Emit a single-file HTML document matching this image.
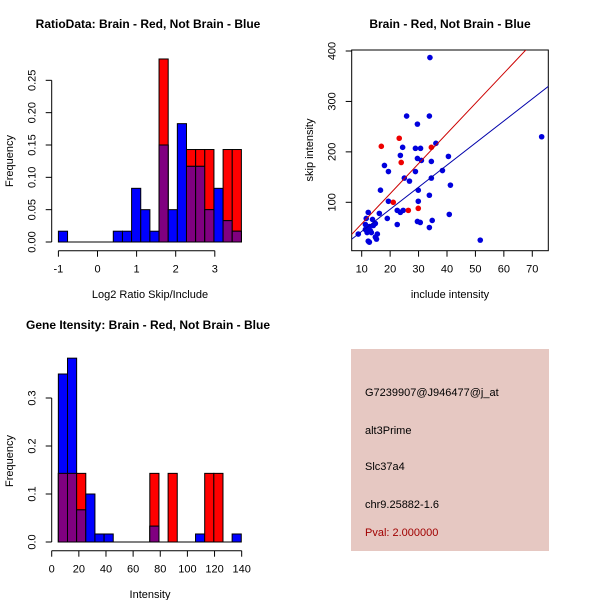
<!DOCTYPE html>
<html><head><meta charset="utf-8"><style>
html,body{margin:0;padding:0;background:#fff;}
svg{display:block;font-family:"Liberation Sans",sans-serif;}
</style></head><body>
<svg id="s" width="600" height="600" xmlns="http://www.w3.org/2000/svg">
<rect x="0" y="0" width="600" height="600" fill="#fff"/>
<text x="148" y="28" font-size="12" font-weight="bold" text-anchor="middle">RatioData: Brain - Red, Not Brain - Blue</text>
<text x="450" y="28" font-size="12" font-weight="bold" text-anchor="middle">Brain - Red, Not Brain - Blue</text>
<text x="148" y="329" font-size="12" font-weight="bold" text-anchor="middle">Gene Itensity: Brain - Red, Not Brain - Blue</text>
<g id="p1"></g>
<g id="p2"></g>
<g id="p3"></g>
<g>
<rect x="351" y="349" width="198" height="202" fill="#e6c8c2"/>
<text x="365" y="396" font-size="11">G7239907@J946477@j_at</text>
<text x="365" y="434" font-size="11">alt3Prime</text>
<text x="365" y="470" font-size="11">Slc37a4</text>
<text x="365" y="508" font-size="11">chr9.25882-1.6</text>
<text x="365" y="536" font-size="11" fill="#a00000">Pval: 2.000000</text>
</g>
</svg>
<script>
// Ratio histogram data (20 bins from -1 to 3.68)
const ratioBlue=[0.0167,0,0,0,0,0,0.0167,0.0167,0.083,0.05,0.0167,0.15,0.05,0.183,0.117,0.117,0.05,0.083,0.033,0.0167];
const ratioRed=[0,0,0,0,0,0,0,0,0,0,0,0.283,0,0,0.143,0.143,0.143,0,0.143,0.143];
const ratioXTicks=[-1,0,1,2,3];
const ratioYTicks=[0,0.05,0.10,0.15,0.20,0.25];
const ratioYLabels=["0.00","0.05","0.10","0.15","0.20","0.25"];
// Intensity histogram data (20 bins from 4.9 to 139.7)
const intBlue=[0.35,0.383,0.067,0.1,0.0167,0.0167,0,0,0,0,0.033,0,0,0,0,0.0167,0,0,0,0.0167];
const intRed=[0.143,0.143,0.143,0,0,0,0,0,0,0,0.143,0,0.143,0,0,0,0.143,0.143,0,0];
const intXTicks=[0,20,40,60,80,100,120,140];
const intYTicks=[0,0.1,0.2,0.3];
const intYLabels=["0.0","0.1","0.2","0.3"];
// Scatter data
const blueX=[34.0,73.3,25.8,33.8,29.6,36.1,24.4,28.9,30.7,23.6,40.5,29.6,31.0,34.5,18.0,19.4,28.9,38.4,25.0,34.5,26.8,41.2,16.6,29.9,33.8,19.4,29.9,12.3,16.2,22.5,23.6,24.6,40.8,11.6,19.0,13.8,29.6,30.6,34.8,14.8,22.5,11.3,12.7,14.1,12.3,11.3,13.0,11.9,13.4,8.8,15.5,33.8,14.8,15.2,12.3,12.7,51.7];
const blueY=[387,230,271,271,255,217,209,207,207,193,191,187,183,181,173,161,161,163,148,148,142,134,124,124,114,102,102,80,78,84,80,84,76,68,68,66,62,60,64,58,56,56,52,54,48,46,44,40,40,37,37,50,31,27,23,21,25];
const redX=[16.9,23.2,23.9,34.5,21.1,26.4,29.9];
const redY=[211,227,179,209,100,84,88];
const scXTicks=[10,20,30,40,50,60,70];
const scYTicks=[100,200,300,400];
const redFit=[-2.3,5.97];
const blueFit=[-1.5,4.38];

const NS="http://www.w3.org/2000/svg";
function mk(parent,tag,attrs,text){const e=document.createElementNS(NS,tag);for(const k in attrs)e.setAttribute(k,attrs[k]);if(text!==undefined)e.textContent=text;parent.appendChild(e);return e;}

function hist(g,blue,red,lo,hi,sx,sy,x0,y0,ytop,xTicks,yTicks,yLabels,xAxisY,xlab,xlabY,prefix){
  const n=blue.length,w=(hi-lo)/n;
  for(let i=0;i<n;i++){
    const a=lo+i*w,b=a+w;
    const x1=sx(a),x2=sx(b);
    const r=mk(g,'rect',{x:x1,y:sy(red[i]),width:x2-x1,height:sy(0)-sy(red[i]),fill:'#ff0000',stroke:'#000','stroke-width':1});
    
    
    const bl=mk(g,'rect',{x:x1,y:sy(blue[i]),width:x2-x1,height:sy(0)-sy(blue[i]),fill:'#0000ff',stroke:'#000','stroke-width':1});
    
    
    const m=Math.min(blue[i],red[i]);
    if(m>0){const p=mk(g,'rect',{x:x1,y:sy(m),width:x2-x1,height:sy(0)-sy(m),fill:'#800080',stroke:'#000','stroke-width':1});
    
    }
  }
  const base=mk(g,'line',{x1:sx(lo),x2:sx(hi),y1:sy(0),y2:sy(0),stroke:'#000'});
  
  
  // y axis
  const ya=mk(g,'line',{x1:x0,x2:x0,y1:sy(yTicks[0]),y2:sy(yTicks[yTicks.length-1]),stroke:'#000'});
  
  
  yTicks.forEach((t,i)=>{
    mk(g,'line',{x1:x0-6,x2:x0,y1:sy(t),y2:sy(t),stroke:'#000'});
    const tx=mk(g,'text',{x:0,y:0,'font-size':11,'text-anchor':'middle',transform:`translate(${x0-16},${sy(t)}) rotate(-90)`},yLabels[i]);
    
    
  });
  const xa=mk(g,'line',{x1:sx(xTicks[0]),x2:sx(xTicks[xTicks.length-1]),y1:xAxisY,y2:xAxisY,stroke:'#000'});
  
  
  xTicks.forEach(t=>{
    mk(g,'line',{x1:sx(t),x2:sx(t),y1:xAxisY,y2:xAxisY+6,stroke:'#000'});
    const tx=mk(g,'text',{x:sx(t),y:xAxisY+22,'font-size':11,'text-anchor':'middle'},String(t));
    
    
  });
  const xl=mk(g,'text',{x:150,y:xlabY,'font-size':11,'text-anchor':'middle'},xlab);
  
  
  const yl=mk(g,'text',{x:0,y:0,'font-size':11,'text-anchor':'middle',transform:`translate(13,${(sy(0)+ytop)/2}) rotate(-90)`},'Frequency');
  
  
}

// Plot 1
(function(){
  const g=document.getElementById('p1');
  const sx=v=>97.5+v*39.1, sy=v=>242-v*646.7;
  hist(g,ratioBlue,ratioRed,-1,3.68,sx,sy,51.7,242,80,ratioXTicks,ratioYTicks,ratioYLabels,250.7,'Log2 Ratio Skip/Include',298,'ratio');
})();
// Plot 3
(function(){
  const g=document.getElementById('p3');
  const sx=v=>51.7+v*1.357, sy=v=>542-v*480;
  hist(g,intBlue,intRed,4.9,139.7,sx,sy,51.7,542,380,intXTicks,intYTicks,intYLabels,550.7,'Intensity',598,'intensity');
})();
// Plot 2
(function(){
  const g=document.getElementById('p2');
  const sx=v=>361.7+(v-10)*2.843, sy=v=>202.3-(v-100)*0.5043;
  const L=351.7,R=548.3,T=50,B=250.7;
  const cp=mk(g,'clipPath',{id:'scclip'});mk(cp,'rect',{x:L,y:T,width:R-L,height:B-T});
  const box=mk(g,'rect',{x:L,y:T,width:R-L,height:B-T,fill:'none',stroke:'#000'});
  
  
  blueX.forEach((x,i)=>{const c=mk(g,'circle',{cx:sx(x),cy:sy(blueY[i]),r:2.8,fill:'#0000dd'});
    
    });
  redX.forEach((x,i)=>{const c=mk(g,'circle',{cx:sx(x),cy:sy(redY[i]),r:2.8,fill:'#ee0000'});
    
    });
  const xa=6.5,xb=75.7;
  const rl=mk(g,'line',{x1:sx(xa),y1:sy(redFit[0]+redFit[1]*xa),x2:sx(xb),y2:sy(redFit[0]+redFit[1]*xb),stroke:'#cc0000','clip-path':'url(#scclip)'});
  
  
  const bl=mk(g,'line',{x1:sx(xa),y1:sy(blueFit[0]+blueFit[1]*xa),x2:sx(xb),y2:sy(blueFit[0]+blueFit[1]*xb),stroke:'#0000aa','clip-path':'url(#scclip)'});
  
  
  scXTicks.forEach(t=>{
    mk(g,'line',{x1:sx(t),x2:sx(t),y1:B,y2:B+6,stroke:'#000'});
    const tx=mk(g,'text',{x:sx(t),y:B+22,'font-size':11,'text-anchor':'middle'},String(t));
    
    
  });
  scYTicks.forEach(t=>{
    mk(g,'line',{x1:L-6,x2:L,y1:sy(t),y2:sy(t),stroke:'#000'});
    const tx=mk(g,'text',{x:0,y:0,'font-size':11,'text-anchor':'middle',transform:`translate(${L-16},${sy(t)}) rotate(-90)`},String(t));
    
    
  });
  const xl=mk(g,'text',{x:450,y:298,'font-size':11,'text-anchor':'middle'},'include intensity');
  
  
  const yl=mk(g,'text',{x:0,y:0,'font-size':11,'text-anchor':'middle',transform:`translate(313,150) rotate(-90)`},'skip intensity');
  
  
})();
</script>
</body></html>
